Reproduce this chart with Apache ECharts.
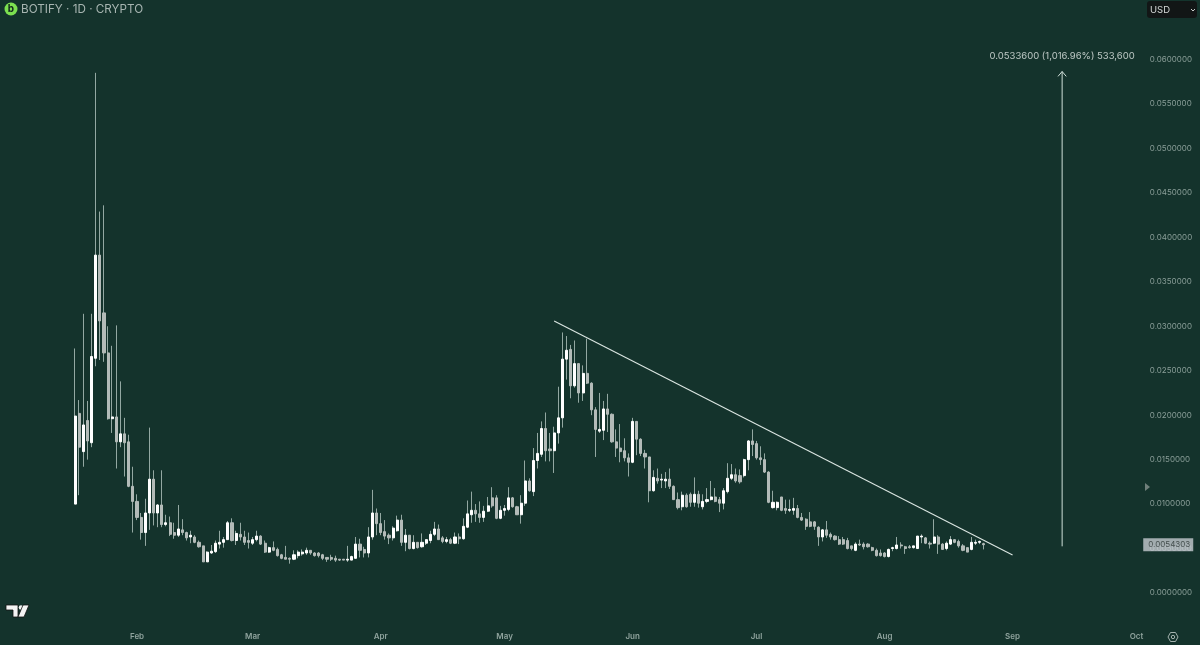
<!DOCTYPE html>
<html>
<head>
<meta charset="utf-8">
<style>html,body{margin:0;padding:0;background:#14332c}#c{width:1200px;height:645px}</style>
<script src="https://cdn.jsdelivr.net/npm/echarts@6/dist/echarts.min.js"></script>
</head>
<body>
<div id="c"></div>
<script>
const tickDates = ['2025-02-01','2025-03-01','2025-04-01','2025-05-01','2025-06-01','2025-07-01','2025-08-01','2025-09-01','2025-10-01'];
const tickLabels = ['Feb','Mar','Apr','May','Jun','Jul','Aug','Sep','Oct'];
const priceTicks = {min:0,max:0.06,step:0.005};
const lastPrice = 0.0054303;
const firstCandleIndex = 17;
const opens = [.0100,.0202,.0159,.0194,.0169,.0264,.0380,.0315,.0270,.0196,.0198,.0170,.0179,.0170,.0120,.0103,.0085,.0068,.0090,.0128,.0090,.0099,.0077,.0079,.0068,.0065,.0071,.0068,.0063,.0063,.0057,.0053,.0035,.0045,.00465,.0055,.0057,.0060,.0079,.0059,.0066,.0063,.0059,.0056,.0060,.0064,.0056,.0046,.0051,.0049,.0043,.0040,.0039,.0038,.0042,.0044,.0045,.0048,.0045,.0045,.0043,.0040,.0040,.0039,.0038,.0038,.0037,.0037,.0039,.0055,.0049,.0045,.0063,.0090,.0078,.0069,.0065,.0062,.0070,.0082,.0057,.0065,.0050,.0057,.0052,.0056,.0059,.0066,.0072,.0062,.0058,.0060,.0056,.0063,.0061,.0074,.0088,.0093,.0089,.0085,.0092,.0107,.0107,.0084,.0093,.0094,.0107,.0097,.0088,.0101,.0126,.0114,.0149,.0156,.0185,.0162,.0160,.0180,.0197,.0263,.0274,.0233,.0258,.0225,.0247,.0236,.0206,.0182,.0183,.0207,.0201,.0170,.0163,.0160,.0152,.0147,.0193,.0173,.0157,.0153,.0115,.0129,.0127,.0126,.0128,.0120,.0105,.0097,.0110,.0111,.0102,.0111,.0097,.0103,.0105,.0108,.0105,.0101,.0114,.0129,.0133,.0132,.0132,.0150,.0171,.0168,.0152,.0150,.0136,.0096,.0096,.0108,.0095,.0093,.0093,.0095,.0085,.0083,.0080,.0080,.0074,.0063,.0071,.0066,.0064,.0060,.0060,.0059,.0053,.0048,.0055,.0055,.0055,.0051,.0048,.0045,.0045,.0041,.0050,.0050,.0054,.0052,.0052,.0051,.0050,.0063,.0062,.0056,.0056,.0063,.0055,.0050,.0055,.0060,.0058,.0053,.0051,.0049,.0056,.0057,.00555];
const closes = [.0199,.0164,.0189,.0171,.0266,.0380,.0306,.0270,.0196,.0198,.0170,.0179,.0169,.0120,.0103,.0085,.0068,.0090,.0128,.0090,.0099,.0077,.0079,.0066,.0065,.0072,.0068,.0062,.0065,.0057,.0052,.0035,.0046,.0047,.0056,.0057,.0060,.0079,.0059,.0067,.0063,.0057,.0057,.0060,.0064,.0055,.0046,.0051,.0048,.0042,.0039,.0038,.0038,.0043,.0046,.0046,.0048,.0045,.0042,.0042,.0039,.0038,.0038,.0037,.0037,.0037,.0038,.0041,.0055,.0048,.0045,.0063,.0090,.0078,.0068,.0064,.0062,.0073,.0082,.0057,.0065,.0050,.0057,.0051,.0057,.0060,.0066,.0072,.0060,.0058,.0060,.0056,.0063,.0061,.0075,.0089,.0093,.0089,.0085,.0092,.0098,.0098,.0084,.0093,.0095,.0107,.0097,.0088,.0101,.0126,.0115,.0149,.0157,.0185,.0160,.0160,.0180,.0197,.0263,.0273,.0233,.0258,.0225,.0247,.0236,.0206,.0184,.0184,.0207,.0201,.0170,.0163,.0159,.0152,.0147,.0193,.0173,.0157,.0153,.0115,.0130,.0126,.0128,.0128,.0120,.0105,.0096,.0110,.0097,.0102,.0111,.0101,.0103,.0105,.0108,.0103,.0101,.0115,.0129,.0133,.0126,.0125,.0150,.0171,.0167,.0152,.0150,.0136,.0102,.0102,.0102,.0093,.0093,.0094,.0095,.0085,.0082,.0075,.0075,.0075,.0063,.0071,.0065,.0063,.0060,.0055,.0055,.0050,.0050,.0055,.0054,.0052,.0052,.0048,.0042,.0042,.0041,.0049,.0051,.0054,.0053,.0050,.0051,.0053,.0064,.0064,.0056,.0055,.0063,.0055,.0049,.0056,.0060,.0057,.0053,.0048,.0046,.0057,.0057,.0058,.0054303];
const lows = [.0100,.0110,.0142,.0150,.0164,.0255,.0262,.0260,.0195,.0180,.0140,.0164,.0131,.0119,.0068,.0082,.0060,.0053,.0071,.0076,.0074,.0074,.0075,.0064,.0061,.0063,.0065,.0059,.0056,.0056,.0051,.0035,.0035,.0044,.0045,.0050,.0051,.0060,.0058,.0054,.0059,.0054,.0050,.0054,.0058,.0054,.0045,.0045,.0047,.0041,.0038,.0038,.0033,.0037,.0039,.0042,.0043,.0043,.0041,.0040,.0037,.0035,.0036,.0035,.0036,.0037,.0035,.0037,.0039,.0040,.0040,.0040,.0060,.0065,.0065,.0060,.0055,.0059,.0069,.0053,.0047,.0049,.0049,.0050,.0051,.0054,.0056,.0064,.0060,.0056,.0056,.0055,.0055,.0055,.0060,.0073,.0079,.0080,.0079,.0080,.0091,.0096,.0083,.0083,.0087,.0092,.0096,.0088,.0078,.0098,.0114,.0109,.0140,.0153,.0148,.0148,.0135,.0168,.0186,.0240,.0219,.0231,.0214,.0216,.0235,.0200,.0153,.0180,.0172,.0181,.0169,.0153,.0147,.0148,.0131,.0146,.0155,.0154,.0140,.0102,.0114,.0123,.0118,.0118,.0117,.0105,.0094,.0093,.0096,.0097,.0097,.0096,.0094,.0101,.0104,.0102,.0091,.0094,.0112,.0127,.0124,.0123,.0130,.0138,.0154,.0150,.0144,.0135,.0101,.0095,.0093,.0092,.0089,.0091,.0088,.0084,.0081,.0071,.0074,.0071,.0053,.0058,.0062,.0060,.0059,.0054,.0054,.0049,.0048,.0047,.0053,.0049,.0051,.0047,.0041,.0041,.0040,.0040,.0047,.0049,.0050,.0044,.0050,.0050,.0050,.0056,.0055,.0050,.0055,.0044,.0049,.0048,.0054,.0056,.0051,.0047,.0046,.0048,.0054,.0055,.0049];
const highs = [.0275,.0217,.0314,.0216,.0314,.0585,.0429,.0436,.0300,.0278,.0301,.0238,.0197,.0178,.0142,.0111,.0090,.0106,.0186,.0138,.0100,.0138,.0088,.0086,.0079,.0099,.0083,.0069,.0070,.0065,.0059,.0053,.0047,.0054,.0059,.0070,.0063,.0081,.0084,.0070,.0079,.0070,.0068,.0063,.0070,.0065,.0059,.0052,.0058,.0051,.0044,.0053,.0040,.0048,.0048,.0049,.0051,.0048,.0046,.0046,.0044,.0040,.0043,.0042,.0038,.0038,.0053,.0042,.0063,.0061,.0052,.0074,.0116,.0095,.0090,.0082,.0067,.0075,.0087,.0088,.0072,.0065,.0065,.0057,.0067,.0060,.0070,.0080,.0077,.0064,.0063,.0062,.0068,.0067,.0084,.0104,.0114,.0100,.0103,.0098,.0108,.0119,.0110,.0098,.0099,.0119,.0108,.0098,.0110,.0149,.0129,.0163,.0180,.0193,.0203,.0180,.0187,.0232,.0293,.0289,.0279,.0284,.0258,.0256,.0286,.0237,.0209,.0225,.0216,.0224,.0202,.0184,.0190,.0174,.0157,.0197,.0193,.0174,.0161,.0153,.0138,.0140,.0134,.0136,.0140,.0121,.0113,.0114,.0112,.0113,.0130,.0115,.0111,.0118,.0126,.0118,.0108,.0118,.0146,.0145,.0140,.0139,.0151,.0172,.0184,.0171,.0165,.0157,.0137,.0115,.0103,.0108,.0105,.0105,.0107,.0099,.0090,.0084,.0091,.0081,.0075,.0072,.0081,.0068,.0065,.0064,.0063,.0062,.0053,.0057,.0060,.0057,.0056,.0052,.0050,.0049,.0046,.0050,.0052,.0063,.0057,.0053,.0054,.0053,.0064,.0066,.0063,.0058,.0083,.0065,.0056,.0058,.0064,.0060,.0060,.0055,.0051,.0063,.0060,.0059,.00565];
const trendIndex = [133,244];
const trendValues = [0.0306,0.00427];
const arrowIndex = 256;
const arrowBase = 0.00525;
const arrowTip = 0.05865;
const arrowHead = 0.0581;
const arrowText = '0.0533600 (1,016.96%) 533,600';
const titleText = 'BOTIFY · 1D · CRYPTO';

const categories = [];
{
  const start = Date.UTC(2024,11,31);
  for (let i=0;i<277;i++) categories.push(new Date(start+i*864e5).toISOString().slice(0,10));
}
const wicks = opens.map((o,i)=>[firstCandleIndex+i,o,closes[i],lows[i],highs[i]]);
const bodies = opens.map((o,i)=>[firstCandleIndex+i,o,closes[i],Math.min(o,closes[i]),Math.max(o,closes[i])]);

const UI='Inter, "Noto Sans", sans-serif';
const HIDDEN='rgba(0,0,0,0)';
const chart = echarts.init(document.getElementById('c'),null,{renderer:'canvas'});
chart.setOption({
  animation:false,
  backgroundColor:'#14332c',
  grid:{left:2.8,top:59.5,width:1144,height:533.5},
  xAxis:{type:'category',data:categories,boundaryGap:true,
    axisLine:{show:false},axisTick:{show:false},splitLine:{show:false},
    axisLabel:{margin:40,color:'#8fa39d',fontSize:8,fontWeight:600,fontFamily:UI,
      interval:(i,v)=>tickDates.includes(v),
      formatter:v=>tickLabels[tickDates.indexOf(v)]||''}},
  yAxis:{type:'value',position:'right',min:priceTicks.min,max:priceTicks.max,interval:priceTicks.step,
    axisLine:{show:false},axisTick:{show:false},splitLine:{show:false},
    axisLabel:{margin:3,color:'#8a9e98',fontSize:8,fontFamily:UI,showMinLabel:true,showMaxLabel:true,padding:[2,0,0,0],
      formatter:v=>v.toFixed(7)}},
  series:[
    {type:'candlestick',name:'wick',data:wicks,encode:{x:0,y:[1,2,3,4]},barWidth:1,silent:true,
      itemStyle:{color:'#93a8a2',color0:'#93a8a2',borderColor:'#93a8a2',borderColor0:'#93a8a2',borderWidth:1}},
    {type:'candlestick',name:'body',data:bodies,encode:{x:0,y:[1,2,3,4]},barWidth:2.6,silent:true,
      itemStyle:{color:'#ffffff',color0:'#b3bbb8',borderColor:'#ffffff',borderColor0:'#b3bbb8',borderWidth:1}},
    {type:'line',name:'trend',data:trendIndex.map((x,i)=>[x,trendValues[i]]),showSymbol:false,symbol:'none',silent:true,
      lineStyle:{color:'#dbe6e2',width:1.1}},
    {type:'line',name:'arrow',data:[[arrowIndex,arrowBase],[arrowIndex,arrowTip]],symbol:'none',silent:true,
      lineStyle:{color:'#cfdfd9',width:1}},
    {type:'line',name:'arrowHead',symbol:'none',silent:true,
      lineStyle:{color:'#cfdfd9',width:1},
      data:[[arrowIndex-1,arrowHead],[arrowIndex,arrowTip],[arrowIndex+1,arrowHead]]},
    {type:'scatter',name:'arrowLabel',symbolSize:1,silent:true,clip:false,z:20,
      itemStyle:{color:HIDDEN},
      data:[[arrowIndex,arrowTip]],
      label:{show:true,position:'top',distance:10,formatter:()=>arrowText,
        color:'#e6ecea',fontSize:9.5,fontFamily:UI}},
    {type:'scatter',name:'lastPrice',symbolSize:1,silent:true,clip:false,z:30,
      itemStyle:{color:HIDDEN},
      data:[[276,lastPrice]],
      label:{show:true,position:'right',distance:-2,formatter:()=>lastPrice.toFixed(7),
        color:'#2a3533',fontSize:8,fontFamily:UI,backgroundColor:'#c6cad1',padding:[3,3,2,5]}}
  ],
  graphic:[
    {type:'circle',shape:{cx:11,cy:9,r:6.5},style:{fill:'#7ce050'},silent:true},
    {type:'text',x:11,y:9,style:{text:'b',fill:'#10211b',font:'700 10px '+UI,textAlign:'center',textVerticalAlign:'middle'},silent:true},
    {type:'text',x:21,y:9.5,style:{text:titleText,fill:'#a7b5b1',font:'400 11.7px '+UI,textVerticalAlign:'middle'},silent:true},
    {type:'rect',shape:{x:1147,y:1,width:50,height:17,r:3},style:{fill:'#121616'},silent:true},
    {type:'text',x:1150,y:10,style:{text:'USD',fill:'#d5d9d8',font:'400 9.5px '+UI,textVerticalAlign:'middle'},silent:true},
    {type:'polyline',shape:{points:[[1191,9],[1193,11],[1195,9]]},style:{stroke:'#c9cdcc',lineWidth:1,fill:'none'},silent:true},
    {type:'polygon',shape:{points:[[1145,483],[1150,487],[1145,491]]},style:{fill:'#6f7f7a'},silent:true},
    {type:'polygon',shape:{points:[[6,605],[18,605],[18,617],[13,617],[13,610],[6,610]]},style:{fill:'#f4f4f4',stroke:'#111',lineWidth:0.8},silent:true},
    {type:'circle',shape:{cx:21,cy:607.5,r:2.3},style:{fill:'#f4f4f4'},silent:true},
    {type:'polygon',shape:{points:[[23,605],[29,605],[24,617],[18,617]]},style:{fill:'#f4f4f4',stroke:'#111',lineWidth:0.8},silent:true},
    {type:'polygon',shape:{points:[[1168,637],[1170.5,632.5],[1175.5,632.5],[1178,637],[1175.5,641.5],[1170.5,641.5]]},style:{fill:'none',stroke:'#a4b2ae',lineWidth:1},silent:true},
    {type:'circle',shape:{cx:1173,cy:637,r:1.7},style:{fill:'none',stroke:'#a4b2ae',lineWidth:1},silent:true}
  ]
});
</script>
</body>
</html>
